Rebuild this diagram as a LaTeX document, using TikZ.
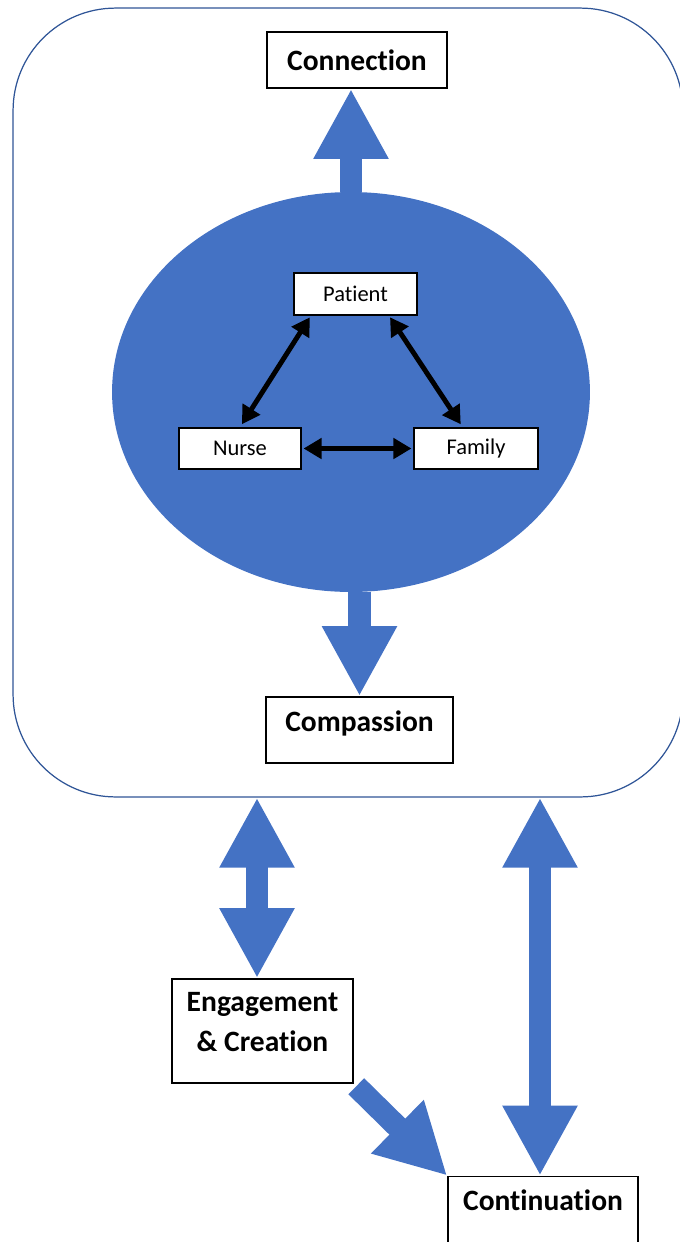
\documentclass[tikz,border=0pt]{standalone}
\usepackage{fontspec}
\setmainfont{Carlito}[Ligatures=NoCommon]
\usepackage{tikz}
\usetikzlibrary{arrows.meta}
\usetikzlibrary{shapes.geometric}
\pgfdeclarelayer{backlayer}
\pgfdeclarelayer{edgelayer}
\pgfdeclarelayer{nodelayer}
\pgfsetlayers{backlayer,edgelayer,nodelayer,main}
\definecolor{blockblue}{RGB}{68,114,196}
\definecolor{framblue}{RGB}{47,85,151}
\tikzstyle{frame_box}=[rectangle,rounded corners=2.05cm,draw=framblue,line width=0.7pt,inner sep=0pt]
\tikzstyle{core}=[ellipse,fill=blockblue,draw=none,inner sep=0pt]
\tikzstyle{stage}=[rectangle,fill=white,draw=black,line width=0.9pt,align=center,font=\bfseries\fontsize{16.8}{22.5}\selectfont]
\tikzstyle{member}=[rectangle,fill=white,draw=black,line width=0.9pt,font=\fontsize{12.8}{15}\selectfont]
\tikzstyle{flow}=[-{Triangle[length=1.4cm,width=1.4cm]},line width=0.45cm,draw=blockblue]
\tikzstyle{two_way}=[{Triangle[length=1.4cm,width=1.4cm]}-{Triangle[length=1.4cm,width=1.4cm]},line width=0.45cm,draw=blockblue]
\tikzstyle{link}=[{Triangle[length=0.36cm,width=0.4cm]}-{Triangle[length=0.36cm,width=0.4cm]},line width=2.8pt,draw=black]

\begin{document}
\begin{tikzpicture}[x=0.02cm,y=-0.02cm]
	\useasboundingbox (0,0) rectangle (680,1242);
	\begin{pgfonlayer}{backlayer}
		\node [style={frame_box}, minimum width=13.4cm, minimum height=15.78cm] (0) at (348,402.5) {};
		\node [style=core, minimum width=9.56cm, minimum height=8cm] (1) at (351,392) {};
	\end{pgfonlayer}
	\begin{pgfonlayer}{nodelayer}
		\node [style=stage, minimum width=3.6cm, minimum height=1.12cm] (2) at (357,60) {Connection};
		\node [style=member, minimum width=2.46cm, minimum height=0.84cm] (3) at (355.5,294) {Patient};
		\node [style=member, minimum width=2.44cm, minimum height=0.82cm] (4) at (240,448.5) {Nurse};
		\node [style=member, minimum width=2.48cm, minimum height=0.82cm] (5) at (476,448.5) {Family};
		\node [style=stage, minimum width=3.74cm, minimum height=1.32cm, text depth=0.34cm] (6) at (359.5,730) {Compassion};
		\node [style=stage, minimum width=3.62cm, minimum height=2.08cm, text depth=0.36cm] (7) at (262.5,1031) {Engagement\\\& Creation};
		\node [style=stage, minimum width=3.8cm, minimum height=1.5cm, text depth=0.56cm] (8) at (543,1214) {Continuation};
	\end{pgfonlayer}
	\begin{pgfonlayer}{edgelayer}
		\draw [style=flow] (1.north) to (1.north |- 2.south);
		\draw [style=flow] (6.north |- 1.south) to (6.north);
		\draw [style=link, shorten <=1pt, shorten >=2pt] (3.206) to (4.north);
		\draw [style=link, shorten <=1pt, shorten >=2pt] (3.-33) to (5.122);
		\draw [style=link, shorten <=1pt, shorten >=1pt] (4.east) to (5.west);
		\draw [style=two_way] (0.south -| 257,0) to (7.north -| 257,0);
		\draw [style=two_way] (0.south -| 540,0) to (8.north -| 540,0);
		\draw [style=flow, shorten <=2pt] (7.south east) to (8.north west);
	\end{pgfonlayer}
\end{tikzpicture}
\end{document}
